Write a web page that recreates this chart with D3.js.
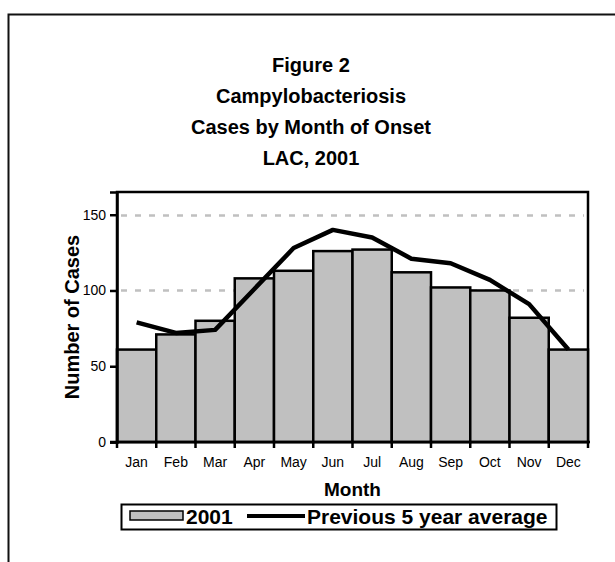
<!DOCTYPE html>
<html>
<head>
<meta charset="utf-8">
<script src="https://cdn.jsdelivr.net/npm/d3@7"></script>
<style>
  body { margin: 0; background: #fff; overflow: hidden; }
  svg { display: block; font-family: "Liberation Sans", Arial, sans-serif; }
</style>
</head>
<body>
<div id="chart"></div>
<script>
// data
var months = ["Jan","Feb","Mar","Apr","May","Jun","Jul","Aug","Sep","Oct","Nov","Dec"]
var cases2001 = [61, 71, 80, 108, 113, 126, 127, 112, 102, 100, 82, 61]
var prev5yr = [79, 72, 74, 101, 128, 140, 135, 121, 118, 107, 91, 61]
var yTicks = [0, 50, 100, 150]
var titleLines = ["Figure 2", "Campylobacteriosis", "Cases by Month of Onset", "LAC, 2001"]

var W = 615, H = 562
var plot = {left: 117, right: 588, top: 192, bottom: 442}

var svg = d3.select("#chart").append("svg")
	.attr("width", W)
	.attr("height", H)

// outer frame, only top and left show in the picture
svg.append("path")
	.attr("d", "M8.5," + H + "V14.5H" + W)
	.attr("fill", "none")
	.attr("stroke", "#111")
	.attr("stroke-width", 2)

// title
svg.append("g").selectAll("text").data(titleLines).enter().append("text")
	.attr("x", 311)
	.attr("y", function(d, i){ return 72 + i * 31; })
	.attr("text-anchor", "middle")
	.style("font-size", "20px")
	.style("font-weight", "bold")
	.text(function(d){ return d; })

var x = d3.scaleBand().domain(months).range([plot.left, plot.right]).padding(0)
var y = d3.scaleLinear().domain([0, 165]).range([plot.bottom, plot.top])

// plot area box
svg.append("rect")
	.attr("x", plot.left).attr("y", plot.top)
	.attr("width", plot.right - plot.left).attr("height", plot.bottom - plot.top)
	.attr("fill", "#fff")
	.attr("stroke", "#000")
	.attr("stroke-width", 2.5)

// gridlines
svg.append("g").selectAll("line").data(yTicks.filter(function(d){ return d > 0; })).enter().append("line")
	.attr("x1", plot.left + 4).attr("x2", plot.right - 4)
	.attr("y1", function(d){ return Math.round(y(d)) + 0.5; })
	.attr("y2", function(d){ return Math.round(y(d)) + 0.5; })
	.attr("stroke", "#c0c0c0")
	.attr("stroke-width", 2.5)
	.attr("stroke-dasharray", "6,8")

// bars
svg.append("g").selectAll("rect").data(cases2001).enter().append("rect")
	.attr("x", function(d, i){ return x(months[i]); })
	.attr("y", function(d){ return y(d); })
	.attr("width", x.bandwidth())
	.attr("height", function(d){ return y(0) - y(d); })
	.attr("fill", "#c0c0c0")
	.attr("stroke", "#000")
	.attr("stroke-width", 2.5)

// previous 5 year average line
var line = d3.line()
	.x(function(d, i){ return x(months[i]) + x.bandwidth() / 2; })
	.y(function(d){ return y(d); })

svg.append("path")
	.datum(prev5yr)
	.attr("d", line)
	.attr("fill", "none")
	.attr("stroke", "#000")
	.attr("stroke-width", 4.5)
	.attr("stroke-linejoin", "round")

// y axis
var yAxis = svg.append("g")
	.attr("transform", "translate(" + plot.left + ",0)")
	.call(d3.axisLeft(y).tickValues(yTicks).tickSize(7).tickPadding(4))
yAxis.select(".domain").attr("stroke-width", 2.5)
yAxis.selectAll(".tick line").attr("stroke-width", 2.5)
yAxis.selectAll("text")
	.style("font-size", "14px")
	.style("font-family", "'Liberation Sans', Arial, sans-serif")
	.attr("fill", "#000")

// x axis: ticks between categories
var xAxis = svg.append("g")
	.attr("transform", "translate(0," + plot.bottom + ")")
xAxis.append("line")
	.attr("x1", plot.left - 7).attr("x2", plot.right + 2)
	.attr("stroke", "#000").attr("stroke-width", 2.5)
xAxis.selectAll(".tk").data(d3.range(months.length + 1)).enter().append("line")
	.attr("class", "tk")
	.attr("x1", function(i){ return plot.left + i * x.step(); })
	.attr("x2", function(i){ return plot.left + i * x.step(); })
	.attr("y1", 0).attr("y2", 6)
	.attr("stroke", "#000").attr("stroke-width", 2.5)
xAxis.selectAll("text").data(months).enter().append("text")
	.attr("x", function(d){ return x(d) + x.bandwidth() / 2; })
	.attr("y", 25)
	.attr("text-anchor", "middle")
	.style("font-size", "14px")
	.text(function(d){ return d; })

// axis titles
svg.append("text")
	.attr("x", (plot.left + plot.right) / 2)
	.attr("y", 496)
	.attr("text-anchor", "middle")
	.style("font-size", "19px")
	.style("font-weight", "bold")
	.text("Month")

svg.append("text")
	.attr("transform", "translate(79," + ((plot.top + plot.bottom) / 2) + ") rotate(-90)")
	.attr("text-anchor", "middle")
	.style("font-size", "20px")
	.style("font-weight", "bold")
	.text("Number of Cases")

// legend
var lg = svg.append("g")
lg.append("rect")
	.attr("x", 121.5).attr("y", 504.5)
	.attr("width", 435).attr("height", 25)
	.attr("fill", "#fff").attr("stroke", "#000").attr("stroke-width", 2)
lg.append("rect")
	.attr("x", 130).attr("y", 511)
	.attr("width", 53).attr("height", 9)
	.attr("fill", "#c0c0c0").attr("stroke", "#000").attr("stroke-width", 1.5)
lg.append("text")
	.attr("x", 186).attr("y", 524)
	.style("font-size", "21px").style("font-weight", "bold")
	.text("2001")
lg.append("line")
	.attr("x1", 247).attr("x2", 305)
	.attr("y1", 516).attr("y2", 516)
	.attr("stroke", "#000").attr("stroke-width", 4)
lg.append("text")
	.attr("x", 307).attr("y", 524)
	.style("font-size", "21px").style("font-weight", "bold")
	.text("Previous 5 year average")
</script>
</body>
</html>
